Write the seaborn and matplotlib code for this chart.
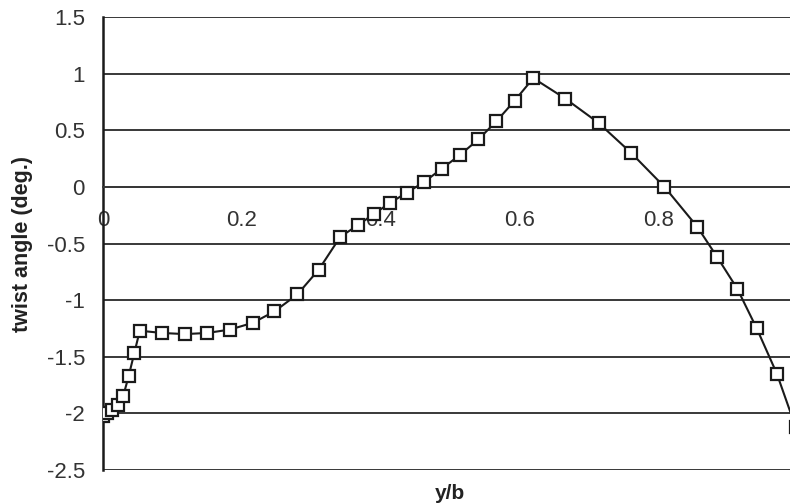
import seaborn as sns
import matplotlib
matplotlib.use('Agg')
import matplotlib.pyplot as plt

# spanwise station y/b and twist angle in degrees
y_over_b = [0.0, 0.006, 0.013, 0.021, 0.029, 0.037, 0.045, 0.053, 0.085, 0.118,
            0.150, 0.183, 0.216, 0.247, 0.280, 0.311, 0.342, 0.367, 0.390, 0.414,
            0.438, 0.462, 0.488, 0.514, 0.541, 0.567, 0.593, 0.620, 0.666, 0.714,
            0.761, 0.809, 0.856, 0.885, 0.914, 0.942, 0.971, 0.998]
twist = [-2.02, -2.00, -1.97, -1.93, -1.85, -1.67, -1.47, -1.27, -1.29, -1.30,
         -1.29, -1.26, -1.20, -1.10, -0.95, -0.73, -0.44, -0.34, -0.24, -0.14,
         -0.05, 0.04, 0.16, 0.28, 0.42, 0.58, 0.76, 0.96, 0.78, 0.565,
         0.30, 0.00, -0.35, -0.62, -0.90, -1.25, -1.65, -2.12]

x_ticks = [0, 0.2, 0.4, 0.6, 0.8, 1.0]
x_tick_labels = ['0', '0.2', '0.4', '0.6', '0.8', '1']
y_ticks = [1.5, 1.0, 0.5, 0.0, -0.5, -1.0, -1.5, -2.0, -2.5]
y_tick_labels = ['1.5', '1', '0.5', '0', '-0.5', '-1', '-1.5', '-2', '-2.5']

sns.set_style('white')
plt.rcParams['font.family'] = ['Liberation Sans', 'DejaVu Sans']

fig = plt.figure(figsize=(7.9, 5.03), dpi=100)
# axes run past the right edge of the figure, like the cropped original
ax = fig.add_axes([103 / 790, 33 / 503, 694 / 790, 453 / 503])

sns.lineplot(x=y_over_b, y=twist, ax=ax, sort=False, color='#1a1a1a', linewidth=1.5,
             marker='s', markersize=9, markerfacecolor='white',
             markeredgecolor='#1a1a1a', markeredgewidth=1.6, zorder=3)

ax.set_xlim(0, 1)
ax.set_ylim(-2.5, 1.5)
ax.set_xticks(x_ticks)
ax.set_xticklabels(x_tick_labels)
ax.set_yticks(y_ticks)
ax.set_yticklabels(y_tick_labels)

ax.yaxis.grid(True, color='#383838', linewidth=1.4)
ax.xaxis.grid(False)

for side in ['top', 'right']:
    ax.spines[side].set_visible(False)
ax.spines['left'].set_color('#1a1a1a')
ax.spines['left'].set_linewidth(1.8)
ax.spines['bottom'].set_position(('data', 0))
ax.spines['bottom'].set_color('#383838')
ax.spines['bottom'].set_linewidth(1.4)

ax.tick_params(axis='y', direction='out', length=6, width=1.3, color='#1a1a1a',
               pad=7, labelsize=16, labelcolor='#333333')
ax.tick_params(axis='x', direction='out', length=7, width=1.3, color='#383838',
               pad=10, labelsize=16, labelcolor='#333333')

ax.set_xlabel('y/b', fontsize=15, fontweight='bold', color='#222222')
ax.xaxis.set_label_coords(0.5, -0.032)
ax.set_ylabel('twist angle (deg.)', fontsize=15.5, fontweight='bold', color='#222222')
ax.yaxis.set_label_coords(-0.101, 0.5)

fig.savefig('out.png', dpi=100, facecolor='white')
